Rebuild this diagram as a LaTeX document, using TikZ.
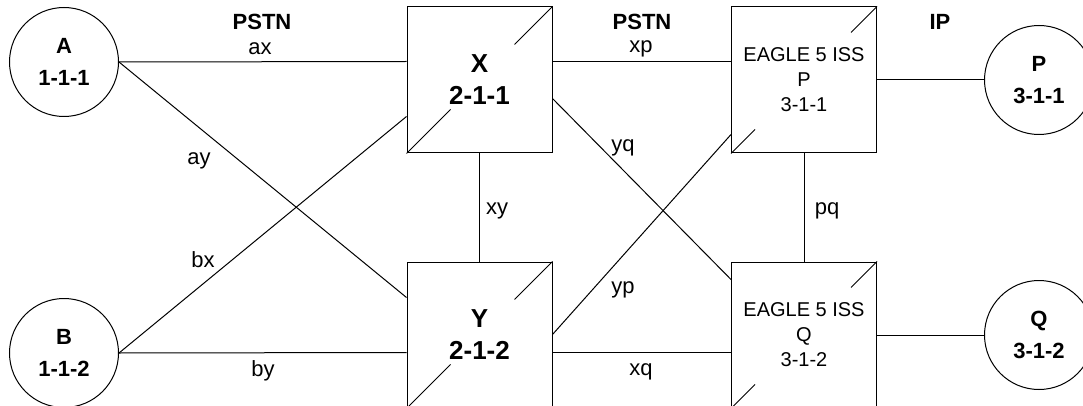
\documentclass[tikz,border=0pt]{standalone}
\usepackage{fontspec}
\setmainfont{Liberation Sans}
\usetikzlibrary{calc}
\begin{document}
\begin{tikzpicture}[x=1pt,y=-1pt, line width=1pt,
  box/.style={draw, rectangle, minimum width=145pt, minimum height=146pt, inner sep=0pt, align=center},
  station/.style={draw, circle, minimum size=109pt, inner sep=0pt, align=center, font=\fontsize{22}{32}\selectfont\bfseries},
  big/.style={font=\fontsize{26}{32}\selectfont\bfseries},
  eagle/.style={font=\fontsize{20}{25}\selectfont},
  lbl/.style={font=\fontsize{22}{26}\selectfont, inner sep=0pt},
  net/.style={font=\fontsize{22}{26}\selectfont\bfseries, inner sep=0pt}]
\useasboundingbox (0,0) rectangle (1083,406);
\clip (0,0) rectangle (1083,406);

% stations
\node[station] (A) at (64,62) {A\\1-1-1};
\node[station] (B) at (64,353) {B\\1-1-2};
\node[station] (Pc) at (1039,80) {P\\3-1-1};
\node[station] (Qc) at (1039,335) {Q\\3-1-2};

% boxes
\node[box, big] (X) at (479.5,80) {X\\2-1-1};
\node[box, big] (Y) at (479.5,335) {Y\\2-1-2};
\node[box, eagle] (P) at (804,80) {EAGLE 5 ISS\\P\\3-1-1};
\node[box, eagle] (Q) at (804,335) {EAGLE 5 ISS\\Q\\3-1-2};

% diagonal slashes
\draw (X.north east) -- ++(-38,38);
\draw (X.south west) -- ++(44,-44);
\draw (Y.north east) -- ++(-38,38);
\draw (Y.south west) -- ++(44,-44);
\draw (P.north east) -- ++(-26,26);
\draw (P.south west) -- ++(24,-24);
\draw (Q.north east) -- ++(-26,26);
\draw (Q.south west) -- ++(24,-24);

% links
\draw (A.east) -- ($(X.north west)+(0,55)$);
\draw (A.east) -- ($(Y.north west)+(0,36)$);
\draw (B.east) -- ($(X.north west)+(0,110)$);
\draw (B.east) -- ($(Y.north west)+(0,91)$);
\draw (X.south) -- (Y.north);
\draw ($(X.north east)+(0,55)$) -- ($(P.north west)+(0,55)$);
\draw ($(X.north east)+(0,92)$) -- ($(Q.north west)+(0,18)$);
\draw ($(Y.north east)+(0,73)$) -- ($(P.north west)+(0,128)$);
\draw ($(Y.north east)+(0,91)$) -- ($(Q.north west)+(0,91)$);
\draw (P.south) -- (Q.north);
\draw (P.east) -- (Pc.west);
\draw (Q.east) -- (Qc.west);

% network labels
\node[net] (n1) at (262,22) {PSTN};
\node[net] (n2) at (642,22) {PSTN};
\node[net] (n3) at (940,22) {IP};

% link labels
\node[lbl] (lax) at (260,49) {ax};
\node[lbl] (lay) at (199,161) {ay};
\node[lbl] (lbx) at (203,260) {bx};
\node[lbl] (lby) at (263,371) {by};
\node[lbl] (lxy) at (497,211) {xy};
\node[lbl] (lxp) at (641,49) {xp};
\node[lbl] (lyq) at (623,148) {yq};
\node[lbl] (lyp) at (623,290) {yp};
\node[lbl] (lxq) at (641,372) {xq};
\node[lbl] (lpq) at (827,211) {pq};
\end{tikzpicture}
\end{document}
